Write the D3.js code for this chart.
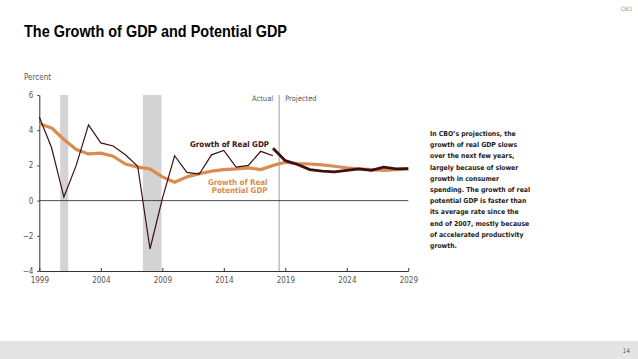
<!DOCTYPE html>
<html>
<head>
<meta charset="utf-8">
<script src="https://cdn.jsdelivr.net/npm/d3@7"></script>
<style>
  body { margin: 0; background: #fff; }
  svg text { font-family: "Liberation Sans Narrow", "DejaVu Sans Condensed", "Roboto", sans-serif; }
</style>
</head>
<body>
<div id="chart"></div>
<script>
// chart data (percent)
const actualYears = d3.range(1999, 2019);
const actualGdp = [4.75, 3.0, 0.2, 2.0, 4.3, 3.28, 3.1, 2.6, 1.95, -2.75,
  0.1, 2.55, 1.6, 1.5, 2.6, 2.85, 1.9, 2.0, 2.8, 2.55];
const projYears = d3.range(2018, 2030);
const projGdp = [2.98, 2.27, 2.05, 1.76, 1.67, 1.63, 1.72, 1.8, 1.72, 1.9, 1.8, 1.82];
const potYears = d3.range(1999, 2030);
const potGdp = [4.37, 4.13, 3.47, 2.9, 2.65, 2.7, 2.52, 2.08, 1.9, 1.8,
  1.35, 1.04, 1.35, 1.53, 1.67, 1.76, 1.8, 1.86, 1.76, 2.0,
  2.18, 2.1, 2.08, 2.03, 1.95, 1.86, 1.8, 1.76, 1.72, 1.76, 1.8];
const recessions = [[2000.7, 2001.35], [2007.42, 2008.93]];
const projStart = 2018.5;
const xTicks = [1999, 2004, 2009, 2014, 2019, 2024, 2029];
const yTicks = [6, 4, 2, 0, -2, -4];
const note = [
  "In CBO\u2019s projections, the",
  "growth of real GDP slows",
  "over the next few years,",
  "largely because of slower",
  "growth in consumer",
  "spending. The growth of real",
  "potential GDP is faster than",
  "its average rate since the",
  "end of 2007, mostly because",
  "of accelerated productivity",
  "growth."
];

const width = 638;
const height = 359;
const colors = {
  gdp: "#3b1013",
  potential: "#db8b50",
  recession: "#d3d3d3",
  axis: "#333",
  label: "#555"
};

const svg = d3.select("#chart")
  .append("svg")
  .attr("width", width)
  .attr("height", height);

const x = d3.scaleLinear().domain([1999, 2029]).range([39.3, 408.3]);
const y = d3.scaleLinear().domain([-4, 6]).range([271, 95]);

// footer band
svg.append("rect")
  .attr("x", 0).attr("y", 341).attr("width", width).attr("height", 18)
  .attr("fill", "#e4e4e4");
svg.append("text")
  .attr("x", 630).attr("y", 353)
  .attr("text-anchor", "end")
  .attr("font-size", "6.5px")
  .attr("fill", "#666")
  .text("14");
svg.append("text")
  .attr("x", 632).attr("y", 11)
  .attr("text-anchor", "end")
  .attr("font-size", "6px")
  .attr("fill", "#999")
  .text("CBO");

// title
svg.append("text")
  .attr("x", 24).attr("y", 37)
  .attr("font-size", "17px")
  .attr("font-weight", "bold")
  .attr("fill", "#000")
  .style("font-family", "'Liberation Sans', Arial, sans-serif")
  .attr("textLength", 263)
  .attr("lengthAdjust", "spacingAndGlyphs")
  .text("The Growth of GDP and Potential GDP");

svg.append("text")
  .attr("x", 24).attr("y", 80)
  .attr("font-size", "8px")
  .attr("fill", colors.label)
  .text("Percent");

// recession bars
svg.append("g")
  .selectAll("rect")
  .data(recessions)
  .enter().append("rect")
  .attr("x", d => x(d[0]))
  .attr("width", d => x(d[1]) - x(d[0]))
  .attr("y", y(6))
  .attr("height", y(-4) - y(6))
  .attr("fill", colors.recession);

// actual / projected divider
svg.append("line")
  .attr("x1", x(projStart)).attr("x2", x(projStart))
  .attr("y1", y(6)).attr("y2", y(-4))
  .attr("stroke", "#888").attr("stroke-width", 0.8);
svg.append("text")
  .attr("x", x(projStart) - 6).attr("y", 101)
  .attr("text-anchor", "end")
  .attr("font-size", "7.5px")
  .attr("fill", colors.label)
  .text("Actual");
svg.append("text")
  .attr("x", x(projStart) + 6).attr("y", 101)
  .attr("font-size", "7.5px")
  .attr("fill", colors.label)
  .text("Projected");

// zero line
svg.append("line")
  .attr("x1", x(1999)).attr("x2", x(2029))
  .attr("y1", y(0)).attr("y2", y(0))
  .attr("stroke", "#222").attr("stroke-width", 0.8);

// axes
const xAxis = svg.append("g")
  .attr("transform", `translate(0,${y(-4)})`)
  .call(d3.axisBottom(x).tickValues(xTicks).tickFormat(d3.format("d")).tickSizeInner(-3).tickSizeOuter(0).tickPadding(6));
const yAxis = svg.append("g")
  .attr("transform", `translate(${x(1999)},0)`)
  .call(d3.axisLeft(y).tickValues(yTicks).tickFormat(d => d < 0 ? "\u2212" + Math.abs(d) : d).tickSizeInner(2).tickSizeOuter(0).tickPadding(3));
[xAxis, yAxis].forEach(g => {
  g.select(".domain").attr("stroke", colors.axis).attr("stroke-width", 1);
  g.selectAll(".tick line").attr("stroke", colors.axis);
  g.selectAll(".tick text")
    .attr("font-size", "8px")
    .attr("fill", colors.label)
    .style("font-family", "'Liberation Sans Narrow', 'DejaVu Sans Condensed', sans-serif");
});
yAxis.selectAll(".tick text").attr("x", -6);

// lines
const line = d3.line().x(d => x(d[0])).y(d => y(d[1]));

svg.append("path")
  .datum(d3.zip(potYears, potGdp))
  .attr("d", line)
  .attr("fill", "none")
  .attr("stroke", colors.potential)
  .attr("stroke-width", 3.2)
  .attr("stroke-linejoin", "round");

svg.append("path")
  .datum(d3.zip(actualYears, actualGdp))
  .attr("d", line)
  .attr("fill", "none")
  .attr("stroke", colors.gdp)
  .attr("stroke-width", 1.2);

svg.append("path")
  .datum(d3.zip(projYears, projGdp))
  .attr("d", line)
  .attr("fill", "none")
  .attr("stroke", colors.gdp)
  .attr("stroke-width", 2.8)
  .attr("stroke-linejoin", "round");

// series labels
svg.append("text")
  .attr("x", 190).attr("y", 147)
  .attr("font-size", "7.9px")
  .attr("font-weight", "bold")
  .attr("fill", colors.gdp)
  .text("Growth of Real GDP");
svg.append("text")
  .attr("text-anchor", "end")
  .attr("font-size", "7.9px")
  .attr("font-weight", "bold")
  .attr("fill", colors.potential)
  .selectAll("tspan")
  .data(["Growth of Real", "Potential GDP"])
  .enter().append("tspan")
  .attr("x", 267.5)
  .attr("y", (d, i) => 184.5 + i * 8.8)
  .text(d => d);

// note
svg.append("text")
  .attr("font-size", "6.8px")
  .attr("font-weight", "bold")
  .attr("fill", "#222")
  .selectAll("tspan")
  .data(note)
  .enter().append("tspan")
  .attr("x", 430)
  .attr("y", (d, i) => 136 + i * 11.2)
  .text(d => d);
</script>
</body>
</html>
